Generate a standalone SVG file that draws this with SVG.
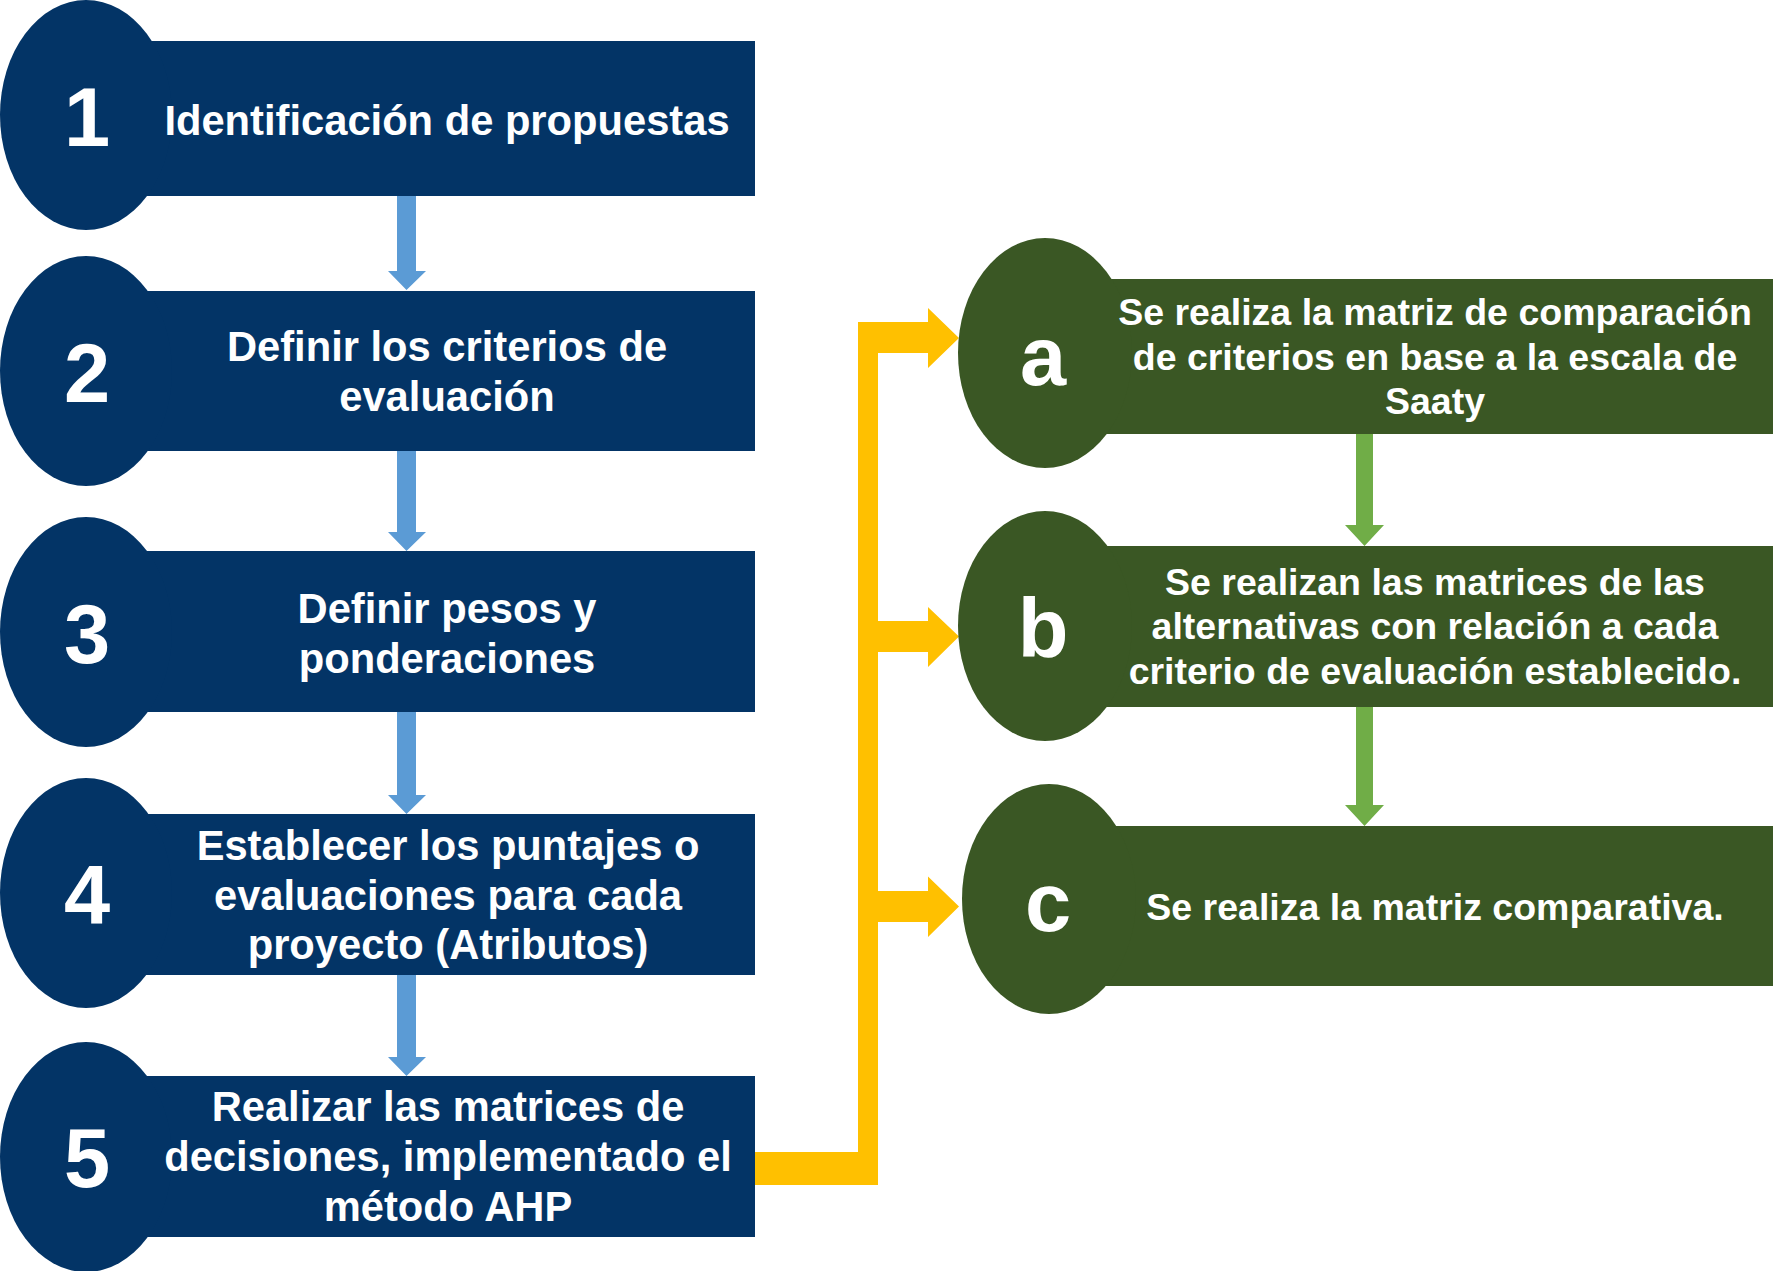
<svg xmlns="http://www.w3.org/2000/svg" width="1784" height="1271" viewBox="0 0 1784 1271">
<style>
.blue{fill:#033466}
.green{fill:#3A5724}
.num{font-family:"Liberation Sans",Arial,sans-serif;font-weight:bold;font-size:83px;fill:#fff;text-anchor:middle}
.lbl{font-family:"Liberation Sans",Arial,sans-serif;font-weight:bold;font-size:41.7px;fill:#fff;text-anchor:middle}
.glbl{font-family:"Liberation Sans",Arial,sans-serif;font-weight:bold;font-size:37.5px;fill:#fff;text-anchor:middle}
.barrow{fill:#5B9BD5}
.garrow{fill:#70AD47}
.yarrow{fill:#FFC000}
</style>
<rect width="1784" height="1271" fill="#fff"/>
<g id="connectors">
  <polygon class="barrow" points="397,195 416,195 416,271 426,271 406.5,290 388,271 397,271"/>
  <polygon class="barrow" points="397,450 416,450 416,532 426,532 406.5,551 388,532 397,532"/>
  <polygon class="barrow" points="397,711 416,711 416,795 426,795 406.5,814 388,795 397,795"/>
  <polygon class="barrow" points="397,974 416,974 416,1057 426,1057 406.5,1076 388,1057 397,1057"/>
  <polygon class="garrow" points="1356,433 1373,433 1373,525 1384,525 1364.5,546 1345,525 1356,525"/>
  <polygon class="garrow" points="1356,706 1373,706 1373,805 1384,805 1364.5,826 1345,805 1356,805"/>
  <g class="yarrow">
    <rect x="754" y="1152" width="124" height="33"/>
    <rect x="858" y="322" width="20" height="863"/>
    <polygon points="858,322 928,322 928,308 959,338 928,368 928,353 858,353"/>
    <polygon points="858,621 928,621 928,607 959,636.5 928,667 928,652 858,652"/>
    <polygon points="858,891 928,891 928,876.5 959,906.5 928,937 928,922 858,922"/>
  </g>
</g>
<g id="node1">
  <rect class="blue" x="86" y="41" width="669" height="155"/>
  <ellipse class="blue" cx="86" cy="115" rx="86" ry="115"/>
  <text class="num" x="87" y="146">1</text>
  <text class="lbl" x="447" y="135">Identificación de propuestas</text>
</g>
<g id="node2">
  <rect class="blue" x="86" y="291" width="669" height="160"/>
  <ellipse class="blue" cx="86" cy="371" rx="86" ry="115"/>
  <text class="num" x="87" y="402">2</text>
  <text class="lbl" x="447" y="360.5">Definir los criterios de</text>
  <text class="lbl" x="447" y="410.5">evaluación</text>
</g>
<g id="node3">
  <rect class="blue" x="86" y="551" width="669" height="161"/>
  <ellipse class="blue" cx="86" cy="632" rx="86" ry="115"/>
  <text class="num" x="87" y="663">3</text>
  <text class="lbl" x="447" y="622.5">Definir pesos y</text>
  <text class="lbl" x="447" y="672.5">ponderaciones</text>
</g>
<g id="node4">
  <rect class="blue" x="86" y="814" width="669" height="161"/>
  <ellipse class="blue" cx="86" cy="893" rx="86" ry="115"/>
  <text class="num" x="87" y="924">4</text>
  <text class="lbl" x="448" y="860">Establecer los puntajes o</text>
  <text class="lbl" x="448" y="910">evaluaciones para cada</text>
  <text class="lbl" x="448" y="959">proyecto (Atributos)</text>
</g>
<g id="node5">
  <rect class="blue" x="86" y="1076" width="669" height="161"/>
  <ellipse class="blue" cx="86" cy="1157" rx="86" ry="115"/>
  <text class="num" x="87" y="1187">5</text>
  <text class="lbl" x="448" y="1121">Realizar las matrices de</text>
  <text class="lbl" x="448" y="1171">decisiones, implementado el</text>
  <text class="lbl" x="448" y="1221">método AHP</text>
</g>
<g id="nodeA">
  <rect class="green" x="1045" y="279" width="728" height="155"/>
  <ellipse class="green" cx="1045" cy="353" rx="87" ry="115"/>
  <text class="num" x="1043" y="385">a</text>
  <text class="glbl" x="1435" y="325">Se realiza la matriz de comparación</text>
  <text class="glbl" x="1435" y="370">de criterios en base a la escala de</text>
  <text class="glbl" x="1435" y="414">Saaty</text>
</g>
<g id="nodeB">
  <rect class="green" x="1045" y="546" width="728" height="161"/>
  <ellipse class="green" cx="1045" cy="626" rx="87" ry="115"/>
  <text class="num" x="1043" y="657">b</text>
  <text class="glbl" x="1435" y="595">Se realizan las matrices de las</text>
  <text class="glbl" x="1435" y="639">alternativas con relación a cada</text>
  <text class="glbl" x="1435" y="684">criterio de evaluación establecido.</text>
</g>
<g id="nodeC">
  <rect class="green" x="1049" y="826" width="724" height="160"/>
  <ellipse class="green" cx="1049" cy="899" rx="87" ry="115"/>
  <text class="num" x="1048" y="931">c</text>
  <text class="glbl" x="1435" y="919.5">Se realiza la matriz comparativa.</text>
</g>
</svg>
